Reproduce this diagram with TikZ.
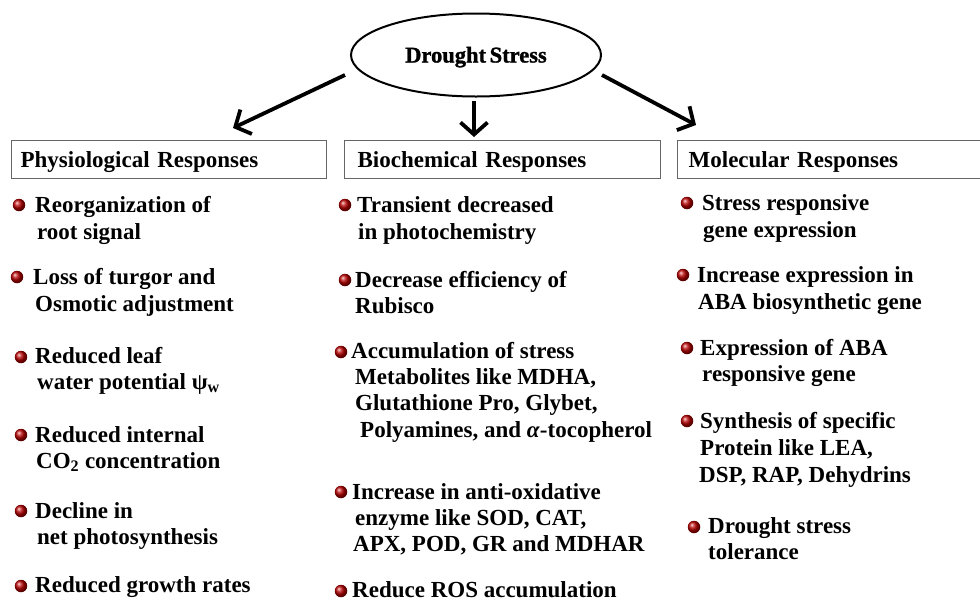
\documentclass[tikz,border=0pt]{standalone}
\usepackage{fontspec}
\setmainfont{Liberation Serif}
\newfontfamily\titlefont{Liberation Serif}[BoldFeatures={FakeBold=1.3}]
\usetikzlibrary{arrows.meta,shapes.geometric}
\begin{document}
\begin{tikzpicture}[x=1pt,y=-1pt,
  txt/.style={anchor=base west, inner sep=0pt, font=\fontsize{23}{26}\selectfont\bfseries},
  bul/.style={circle, inner sep=0pt, minimum size=12.5pt, ball color=red!72!black},
  hdr/.style={draw=black!60, line width=1.3pt, anchor=north west, minimum height=38pt,
     align=left, text height=16pt, text depth=1pt, inner ysep=0pt,
     font=\fontsize{23}{26}\selectfont\bfseries},
  arr/.style={line width=3.8pt, -{Straight Barb[length=12pt,width=27pt]}}]
\useasboundingbox (0,0) rectangle (980,603);
\fill[white] (0,0) rectangle (980,603);

% central ellipse
\node[ellipse, draw, line width=2pt, minimum width=250pt, minimum height=83pt,
      text height=15pt, text depth=0pt, inner sep=0pt,
      font=\fontsize{22.5}{26}\titlefont\bfseries] (ds) at (476,55) {Drought\kern-2pt\ Stress};

% arrows
\coordinate (la) at (345,75);  \coordinate (lt) at (233,128);
\coordinate (ma) at (474,101); \coordinate (mt) at (474,137);
\coordinate (ra) at (602,75);  \coordinate (rt) at (696,125);
\draw[arr] (la) -- (lt);
\draw[arr] (ma) -- (mt);
\draw[arr] (ra) -- (rt);

% header boxes
\node[hdr, inner xsep=9pt, text width=297pt] (phys) at (11,140) {Physiological Responses};
\node[hdr, inner xsep=13pt, text width=290pt] (bio) at (344,140) {Biochemical Responses};
\node[hdr, inner xsep=11pt, text width=300pt] (mol) at (677,140) {Molecular Responses};

% physiological column
\node[bul] (p1) at (19,205) {};
\node[txt] (p1a) at (35,212) {Reorganization of};
\node[txt] (p1b) at (37,239) {root signal};
\node[bul] (p2) at (17,277) {};
\node[txt] (p2a) at (33,284) {Loss of turgor and};
\node[txt] (p2b) at (35,311) {Osmotic adjustment};
\node[bul] (p3) at (21,357) {};
\node[txt] (p3a) at (35,363) {Reduced leaf};
\node[txt] (p3b) at (37,389) {water potential ψ\textsubscript{w}};
\node[bul] (p4) at (21,435) {};
\node[txt] (p4a) at (35,442) {Reduced internal};
\node[txt] (p4b) at (36,468) {CO\textsubscript{2} concentration};
\node[bul] (p5) at (21,511) {};
\node[txt] (p5a) at (35,518) {Decline in};
\node[txt] (p5b) at (37,544) {net photosynthesis};
\node[bul] (p6) at (21,586) {};
\node[txt] (p6a) at (35,592) {Reduced growth rates};

% biochemical column
\node[bul] (b1) at (345,205) {};
\node[txt] (b1a) at (357,212) {Transient decreased};
\node[txt] (b1b) at (358,239) {in photochemistry};
\node[bul] (b2) at (345,280) {};
\node[txt] (b2a) at (355,287) {Decrease efficiency of};
\node[txt] (b2b) at (355,313) {Rubisco};
\node[bul] (b3) at (341,352) {};
\node[txt] (b3a) at (351,358) {Accumulation of stress};
\node[txt] (b3b) at (355,384) {Metabolites like MDHA,};
\node[txt] (b3c) at (355,410) {Glutathione Pro, Glybet,};
\node[txt] (b3d) at (360,437) {Polyamines, and \textit{α}-tocopherol};
\node[bul] (b4) at (341,492) {};
\node[txt] (b4a) at (352,499) {Increase in anti-oxidative};
\node[txt] (b4b) at (355,525) {enzyme like SOD, CAT,};
\node[txt] (b4c) at (353,551) {APX, POD, GR and MDHAR};
\node[bul] (b5) at (341,591) {};
\node[txt] (b5a) at (352,597) {Reduce ROS accumulation};

% molecular column
\node[bul] (m1) at (687,203) {};
\node[txt] (m1a) at (702,210) {Stress responsive};
\node[txt] (m1b) at (703,237) {gene expression};
\node[bul] (m2) at (683,275) {};
\node[txt] (m2a) at (697,282) {Increase expression in};
\node[txt] (m2b) at (698,309) {ABA biosynthetic gene};
\node[bul] (m3) at (687,348) {};
\node[txt] (m3a) at (700,355) {Expression of ABA};
\node[txt] (m3b) at (702,381) {responsive gene};
\node[bul] (m4) at (687,421) {};
\node[txt] (m4a) at (700,428) {Synthesis of specific};
\node[txt] (m4b) at (700,455) {Protein like LEA,};
\node[txt] (m4c) at (699,482) {DSP, RAP, Dehydrins};
\node[bul] (m5) at (694,527) {};
\node[txt] (m5a) at (708,533) {Drought stress};
\node[txt] (m5b) at (708,559) {tolerance};
\end{tikzpicture}
\end{document}
